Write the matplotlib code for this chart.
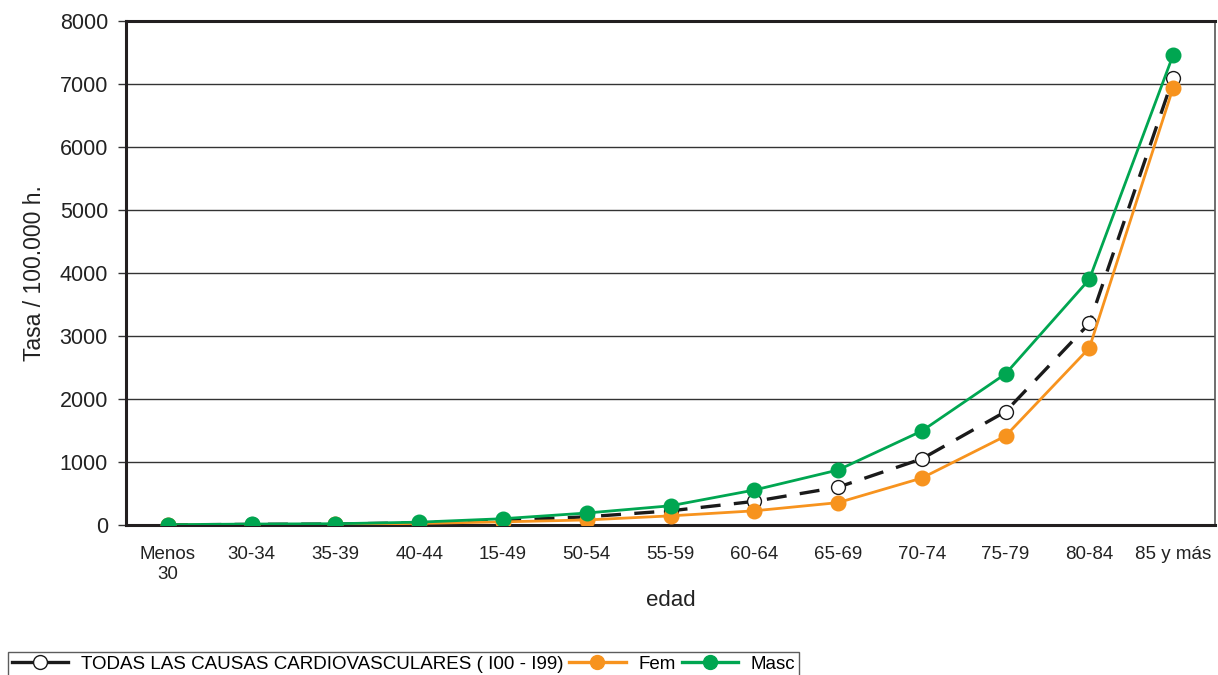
import matplotlib
matplotlib.use("Agg")
import matplotlib.pyplot as plt
from matplotlib.lines import Line2D

categories = ["Menos\n30", "30-34", "35-39", "40-44", "15-49", "50-54", "55-59",
              "60-64", "65-69", "70-74", "75-79", "80-84", "85 y más"]
total = [2, 10, 15, 35, 75, 130, 225, 375, 600, 1050, 1800, 3200, 7095]
fem = [0, 5, 10, 25, 50, 80, 145, 225, 355, 745, 1413, 2810, 6940]
masc = [5, 15, 20, 45, 100, 190, 305, 555, 873, 1492, 2400, 3900, 7460]
yticks = [0, 1000, 2000, 3000, 4000, 5000, 6000, 7000, 8000]

plt.rcParams['font.family'] = ['Liberation Sans', 'DejaVu Sans']

GREEN = "#00A651"
ORANGE = "#F7931E"

fig = plt.figure(figsize=(12.18, 6.75), dpi=100)
ax = fig.add_axes([126/1218, 1-525/675, (1215-126)/1218, (525-21)/675])

x = list(range(len(categories)))
ax.plot(x, total, color="#1a1a1a", lw=2.4, ls=(0, (6, 4)), marker='o',
        ms=10, mfc='white', mec='#1a1a1a', mew=1.0, zorder=3)
ax.plot(x, fem, color=ORANGE, lw=2, marker='o', ms=10.5,
        mfc=ORANGE, mec=ORANGE, zorder=4)
ax.plot(x, masc, color=GREEN, lw=2, marker='o', ms=10.5,
        mfc=GREEN, mec=GREEN, zorder=5)

ax.set_xlim(-0.5, len(categories) - 0.5)
ax.set_ylim(0, 8000)
ax.set_yticks(yticks)
ax.set_yticklabels([str(v) for v in yticks], fontsize=15.5, color="#222222")
ax.set_xticks(x)
ax.set_xticklabels(categories, fontsize=13.5, color="#222222", linespacing=1.25)
ax.tick_params(axis='x', length=0, pad=15)
ax.tick_params(axis='y', length=6, width=1, direction='out', pad=7, color="#333333")
ax.yaxis.grid(True, color="#333333", lw=1)
ax.set_axisbelow(True)
for s in ['left', 'bottom', 'top']:
    ax.spines[s].set_linewidth(2.2)
    ax.spines[s].set_color("#231f20")
ax.spines['right'].set_linewidth(1.2)
ax.spines['right'].set_color("#555555")

ax.set_ylabel("Tasa / 100.000 h.", fontsize=16.5, color="#222222", labelpad=10)
ax.set_xlabel("edad", fontsize=16, color="#222222", labelpad=5)

h_tot = Line2D([], [], color="#1a1a1a", lw=2.4, marker='o', ms=10,
               mfc='white', mec='#1a1a1a', mew=1.0)
h_fem = Line2D([], [], color=ORANGE, lw=2.4, marker='o', ms=10,
               mfc=ORANGE, mec=ORANGE)
h_masc = Line2D([], [], color=GREEN, lw=2.4, marker='o', ms=10,
                mfc=GREEN, mec=GREEN)
leg = fig.legend([h_tot, h_fem, h_masc],
                 ["TODAS LAS CAUSAS CARDIOVASCULARES ( I00 - I99)", "Fem", "Masc"],
                 loc='upper left', bbox_to_anchor=(8/1218, 1-652/675), ncol=3,
                 fontsize=13.5, frameon=True, fancybox=False, edgecolor="#333333",
                 handlelength=3.0, handletextpad=0.7, columnspacing=0.3,
                 borderpad=0.2, borderaxespad=0)
leg.get_frame().set_linewidth(1.0)

fig.savefig("out.png", dpi=100)
